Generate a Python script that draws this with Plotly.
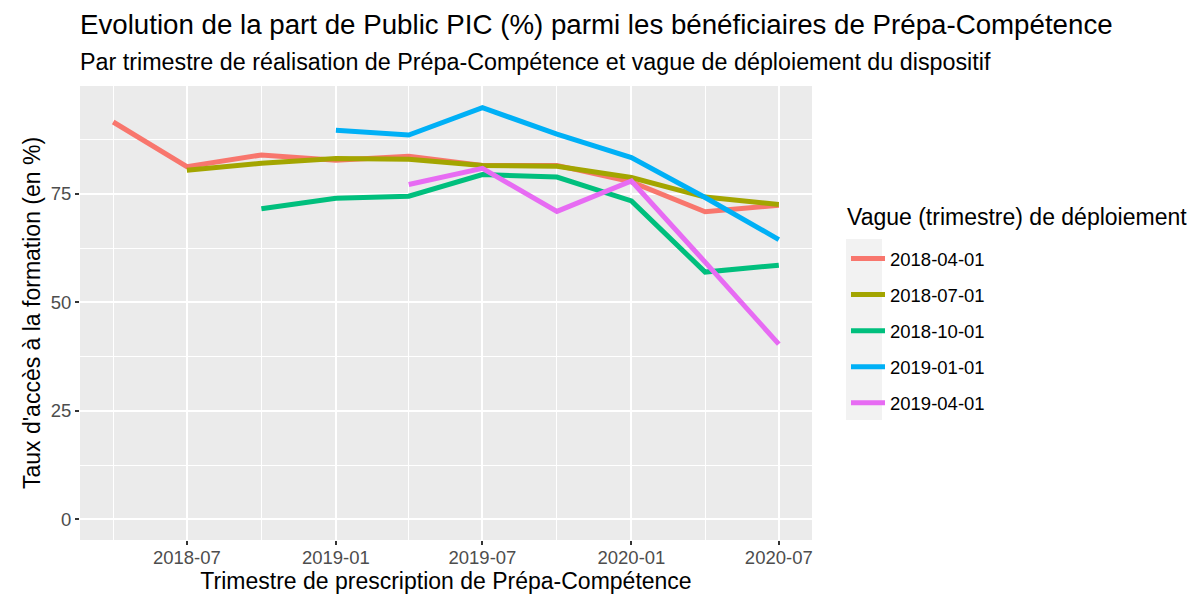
import plotly.graph_objects as go

quarters = ["2018-04-01", "2018-07-01", "2018-10-01", "2019-01-01", "2019-04-01",
            "2019-07-01", "2019-10-01", "2020-01-01", "2020-04-01", "2020-07-01"]

waves = ["2018-04-01", "2018-07-01", "2018-10-01", "2019-01-01", "2019-04-01"]
colors = ["#F8766D", "#A3A500", "#00BF7D", "#00B0F6", "#E76BF3"]

vals_2018_04 = [91.6, 81.3, 84.0, 82.8, 83.7, 81.6, 81.6, 77.8, 70.9, 72.4]
vals_2018_07 = [80.5, 82.1, 83.2, 83.0, 81.6, 81.4, 78.8, 74.3, 72.6]
vals_2018_10 = [71.6, 74.0, 74.5, 79.5, 78.9, 73.4, 57.0, 58.6]
vals_2019_01 = [89.7, 88.6, 94.9, 88.8, 83.4, 74.2, 64.5]
vals_2019_04 = [77.2, 80.9, 71.0, 78.0, 59.3, 40.4]

series = [vals_2018_04, vals_2018_07, vals_2018_10, vals_2019_01, vals_2019_04]

FONT = "Liberation Sans, Arial, sans-serif"

# page body has an 8px margin; figure is sized so the panel lands where the reference has it
W, H = 1187, 586
ML, MR, MT, MB = 72, 383, 78, 54
PW = W - ML - MR
PH = H - MT - MB


def px_x(px):
    return (px - 8 - ML) / PW


def px_y(py):
    return (H - MB - (py - 8)) / PH


fig = go.Figure()
for wave, col, vals in zip(waves, colors, series):
    xs = quarters[len(quarters) - len(vals):]
    fig.add_trace(go.Scatter(
        x=xs, y=vals, mode="lines", name=wave,
        line=dict(color=col, width=5),
        legendgroup=wave,
    ))

fig.update_layout(
    width=W, height=H,
    margin=dict(l=ML, r=MR, t=MT, b=MB, autoexpand=False),
    paper_bgcolor="white",
    plot_bgcolor="#EBEBEB",
    font=dict(family=FONT, color="#000000"),
    showlegend=True,
    legend=dict(
        x=px_x(846), xanchor="left", y=px_y(240), yanchor="top",
        font=dict(size=18.5),
        tracegroupgap=9,
        itemwidth=34,
        bgcolor="rgba(0,0,0,0)",
    ),
    xaxis=dict(
        type="date",
        range=["2018-02-19", "2020-08-11"],
        tick0="2018-01-01", dtick="M6", tickformat="%Y-%m",
        showgrid=True, gridcolor="white", gridwidth=2,
        minor=dict(dtick="M3", showgrid=True, gridcolor="white", gridwidth=1),
        ticks="outside", ticklen=4, tickcolor="#333333", tickwidth=1.5,
        ticklabelstandoff=-3,
        tickfont=dict(size=18.5, color="#4D4D4D"),
        title=dict(text="Trimestre de prescription de Prépa-Compétence",
                   font=dict(size=23), standoff=2),
        zeroline=False, showline=False, automargin=False,
    ),
    yaxis=dict(
        range=[-4.76, 99.9],
        tick0=0, dtick=25,
        showgrid=True, gridcolor="white", gridwidth=2,
        minor=dict(dtick=12.5, showgrid=True, gridcolor="white", gridwidth=1),
        ticks="outside", ticklen=4, tickcolor="#333333", tickwidth=1.5,
        tickfont=dict(size=18.5, color="#4D4D4D"),
        title=dict(text="Taux d'accès à la formation (en %)",
                   font=dict(size=23), standoff=3),
        zeroline=False, showline=False, automargin=False,
    ),
    annotations=[
        dict(text="Evolution de la part de Public PIC (%) parmi les bénéficiaires de Prépa-Compétence",
             xref="paper", yref="paper", x=px_x(78), y=px_y(24), xanchor="left", yanchor="middle",
             showarrow=False, font=dict(size=27.7, color="black")),
        dict(text="Par trimestre de réalisation de Prépa-Compétence et vague de déploiement du dispositif",
             xref="paper", yref="paper", x=px_x(78), y=px_y(62), xanchor="left", yanchor="middle",
             showarrow=False, font=dict(size=23.3, color="black")),
        dict(text="Vague (trimestre) de déploiement",
             xref="paper", yref="paper", x=px_x(845), y=px_y(217), xanchor="left", yanchor="middle",
             showarrow=False, font=dict(size=23, color="black")),
    ],
    shapes=[
        dict(type="rect", xref="paper", yref="paper",
             x0=px_x(846), x1=px_x(882),
             y0=px_y(420), y1=px_y(239),
             fillcolor="#F2F2F2", line=dict(width=0), layer="below"),
    ],
)

fig.write_html("out.html")
